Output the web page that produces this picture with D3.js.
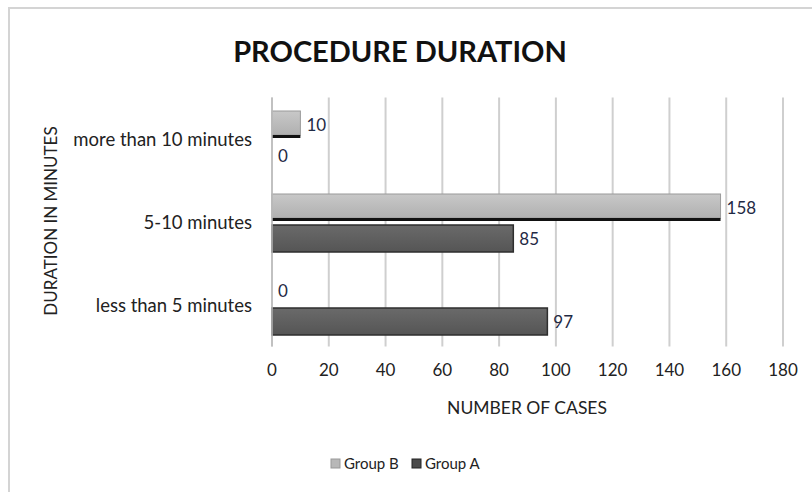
<!DOCTYPE html>
<html><head><meta charset="utf-8">
<script src="https://cdn.jsdelivr.net/npm/d3@7"></script>
<style>html,body{margin:0;padding:0;background:#fff;} svg{display:block;}</style>
</head><body><svg id="c" width="812" height="492"></svg>
<script>
const categories = ["more than 10 minutes", "5-10 minutes", "less than 5 minutes"];
const seriesNames = ["Group B", "Group A"];
const groupB = [10, 158, 0];
const groupA = [0, 85, 97];
const xTicks = [0, 20, 40, 60, 80, 100, 120, 140, 160, 180];
const title = "PROCEDURE DURATION";
const xTitle = "NUMBER OF CASES";
const yTitle = "DURATION IN MINUTES";

const svg = d3.select("#c");
const font = "Lato, 'Open Sans', sans-serif";
const m = {left: 272, right: 783, top: 98.5, bottom: 347.5};

// chart frame
svg.append("rect").attr("x", 9).attr("y", 8).attr("width", 900).attr("height", 600)
  .attr("fill", "none").attr("stroke", "#d4d4d4").attr("stroke-width", 2);

const defs = svg.append("defs");
const gB = defs.append("linearGradient").attr("id", "gB").attr("x1", 0).attr("y1", 0).attr("x2", 0).attr("y2", 1);
gB.append("stop").attr("offset", "0%").attr("stop-color", "#c8c8c8");
gB.append("stop").attr("offset", "100%").attr("stop-color", "#b0b0b0");
const gA = defs.append("linearGradient").attr("id", "gA").attr("x1", 0).attr("y1", 0).attr("x2", 0).attr("y2", 1);
gA.append("stop").attr("offset", "0%").attr("stop-color", "#6a6a6a");
gA.append("stop").attr("offset", "100%").attr("stop-color", "#555555");

const x = d3.scaleLinear().domain([0, 180]).range([m.left, m.right]);
const y = d3.scaleBand().domain(categories).range([m.top, m.bottom]).paddingInner(0).paddingOuter(0);
const inner = d3.scaleBand().domain(seriesNames).range([12.5, 70.5]).paddingInner(4 / 31).paddingOuter(0);

// gridlines
svg.append("g").selectAll("line").data(xTicks).join("line")
  .attr("x1", d => x(d)).attr("x2", d => x(d))
  .attr("y1", m.top - 1).attr("y2", m.bottom - 1)
  .attr("stroke", "#cfcfcf").attr("stroke-width", 2);

// x tick labels
svg.append("g").selectAll("text").data(xTicks).join("text")
  .attr("x", d => x(d)).attr("y", 376)
  .attr("text-anchor", "middle").attr("font-family", font).attr("font-size", 17).attr("fill", "#222")
  .text(d => d);

// category labels
svg.append("g").selectAll("text").data(categories).join("text")
  .attr("x", 252).attr("y", d => y(d) + y.bandwidth() / 2 + 6)
  .attr("text-anchor", "end").attr("font-family", font).attr("font-size", 18.5).attr("fill", "#222")
  .text(d => d);

const data = categories.map((c, i) => ({c, vals: [{s: "Group B", v: groupB[i]}, {s: "Group A", v: groupA[i]}]}));
const g = svg.append("g");
data.forEach(d => {
  d.vals.forEach(p => {
    const y0 = y(d.c) + inner(p.s);
    const h = inner.bandwidth();
    if (p.s === "Group B") {
      if (p.v > 0) {
        g.append("rect").attr("x", x(0)).attr("y", y0).attr("width", x(p.v) - x(0)).attr("height", h - 3)
          .attr("fill", "url(#gB)").attr("stroke", "#9a9a9a").attr("stroke-width", 1);
        g.append("rect").attr("x", x(0)).attr("y", y0 + h - 3).attr("width", x(p.v) - x(0)).attr("height", 3)
          .attr("fill", "#111");
      }
    } else {
      if (p.v > 0) {
        g.append("rect").attr("x", x(0)).attr("y", y0).attr("width", x(p.v) - x(0)).attr("height", h)
          .attr("fill", "url(#gA)").attr("stroke", "#2e2e2e").attr("stroke-width", 1.5);
      }
    }
    g.append("text").attr("x", x(p.v) + 6).attr("y", y0 + h / 2 + 6)
      .attr("font-family", font).attr("font-size", 17).attr("fill", "#1f2a44")
      .text(p.v);
  });
});

// y axis line
svg.append("line").attr("x1", x(0)).attr("x2", x(0)).attr("y1", m.top - 1).attr("y2", m.bottom - 1)
  .attr("stroke", "#bdbdbd").attr("stroke-width", 1.5);

// titles
svg.append("text").attr("x", 400).attr("y", 62).attr("text-anchor", "middle")
  .attr("font-family", font).attr("font-weight", "bold").attr("font-size", 29).attr("fill", "#111")
  .text(title);
svg.append("text").attr("x", 527).attr("y", 414).attr("text-anchor", "middle")
  .attr("font-family", font).attr("font-size", 17.5).attr("fill", "#222").text(xTitle);
svg.append("text").attr("transform", "translate(57,221) rotate(-90)").attr("text-anchor", "middle")
  .attr("font-family", font).attr("font-size", 17).attr("fill", "#222").text(yTitle);

// legend
const lg = svg.append("g");
const items = [{s: "Group B", fill: "#b8b8b8", stroke: "#999", x: 331}, {s: "Group A", fill: "#4a4a4a", stroke: "#222", x: 412}];
items.forEach(it => {
  lg.append("rect").attr("x", it.x).attr("y", 459).attr("width", 9).attr("height", 9)
    .attr("fill", it.fill).attr("stroke", it.stroke);
  lg.append("text").attr("x", it.x + 13).attr("y", 469).attr("font-family", font).attr("font-size", 15)
    .attr("fill", "#222").text(it.s);
});
</script></body></html>
